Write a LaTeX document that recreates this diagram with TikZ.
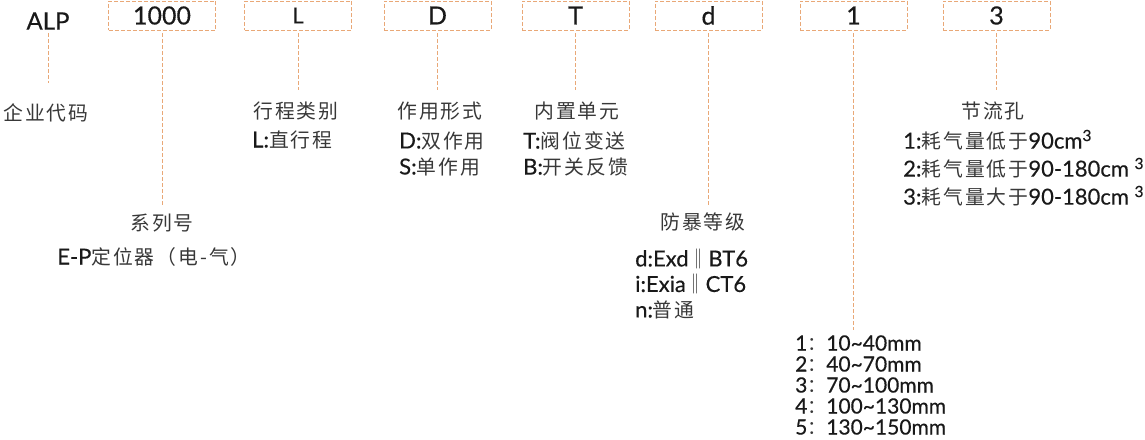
\documentclass[tikz,border=0pt]{standalone}
\usepackage{fontspec}
\setmainfont{Lato}[FakeBold=0.4]
\newfontfamily\zhfont{Noto Sans CJK SC}[LetterSpace=10, Scale=0.9]
\newcommand\zh[1]{{\zhfont\color{black!78}#1}}
\usetikzlibrary{positioning}
\definecolor{dashorange}{RGB}{233,168,119}

\begin{document}
\begin{tikzpicture}[x=1pt,y=-1pt,text=black!90,
codebox/.style={draw=dashorange, line width=0.9pt, dash pattern=on 4pt off 2pt,
  minimum width=107pt, minimum height=29pt, inner sep=0pt,
  font=\fontsize{25}{25}\selectfont},
lead/.style={draw=dashorange, line width=0.9pt, dash pattern=on 4pt off 2pt},
heading/.style={font=\fontsize{22}{22}\selectfont, inner sep=0pt},
items/.style={font=\fontsize{22}{26}\selectfont, align=left, inner sep=0pt, anchor=west}]
\useasboundingbox (0,0) rectangle (1145,439);

% code
\node[font=\fontsize{24}{24}\selectfont, inner sep=0pt] (alp) at (48,21) {ALP};
\node[codebox] (b1000) at (162,15.5) {1000};
\node[codebox, font=\fontsize{22}{22}\selectfont] (bL) at (298,15.5) {L};
\node[codebox] (bD) at (437.5,15.5) {D};
\node[codebox] (bT) at (575.5,15.5) {T};
\node[codebox] (bd) at (708.5,15.5) {d};
\node[codebox] (b1) at (853.5,15.5) {1};
\node[codebox] (b3) at (996.5,15.5) {3};

% headings
\node[heading] (corp) at (46,113) {\zh{企业代码}};
\node[heading] (series) at (162,223) {\zh{系列号}};
\node[heading] (stroke) at (296,111) {\zh{行程类别}};
\node[heading] (act) at (440,111) {\zh{作用形式}};
\node[heading] (unit) at (577,111) {\zh{内置单元}};
\node[heading] (exproof) at (703,222) {\zh{防暴等级}};
\node[heading] (orifice) at (993,111) {\zh{节流孔}};

% options
\node[items, anchor=center] (seriesopt) at (154,257) {E-P\zh{定位器（电-气）}};
\node[items] (strokeopt) at (252,140) {L:\zh{直行程}};
\node[items] (actopt) at (399,154) {D:\zh{双作用}\\S:\zh{单作用}};
\node[items] (unitopt) at (523,154) {T:\zh{阀位变送}\\B:\zh{开关反馈}};
\node[items, font=\fontsize{22}{25.5}\selectfont] (exopt) at (635,284)
  {d:Exd\zh{‖}BT6\\i:Exia\zh{‖}CT6\\n:\zh{普通}};
\node[items, font=\fontsize{22}{28}\selectfont] (orificeopt) at (903,168)
  {1:\zh{耗气量低于}90cm\textsuperscript{3}\\2:\zh{耗气量低于}90-180cm \textsuperscript{3}\\3:\zh{耗气量大于}90-180cm \textsuperscript{3}};
\node[items, font=\fontsize{21}{21}\selectfont] (sizeopt) at (795,385)
  {1\zh{：}10\textasciitilde40mm\\2\zh{：}40\textasciitilde70mm\\3\zh{：}70\textasciitilde100mm\\4\zh{：}100\textasciitilde130mm\\5\zh{：}130\textasciitilde150mm};

% leads
\draw[lead, shorten <=3pt, shorten >=21pt] (alp.south) -- (alp.south |- corp.north);
\draw[lead, shorten <=3pt, shorten >=7pt] (b1000.south) -- (b1000.south |- series.north);
\draw[lead, shorten <=3pt, shorten >=12pt] (bL.south) -- (bL.south |- stroke.north);
\draw[lead, shorten <=3pt, shorten >=12pt] (bD.south) -- (bD.south |- act.north);
\draw[lead, shorten <=3pt, shorten >=12pt] (bT.south) -- (bT.south |- unit.north);
\draw[lead, shorten <=3pt, shorten >=8pt] (bd.south) -- (bd.south |- exproof.north);
\draw[lead, shorten <=3pt, shorten >=5pt] (b1.south) -- (b1.south |- sizeopt.north);
\draw[lead, shorten <=3pt, shorten >=12pt] (b3.south) -- (b3.south |- orifice.north);
\end{tikzpicture}
\end{document}
